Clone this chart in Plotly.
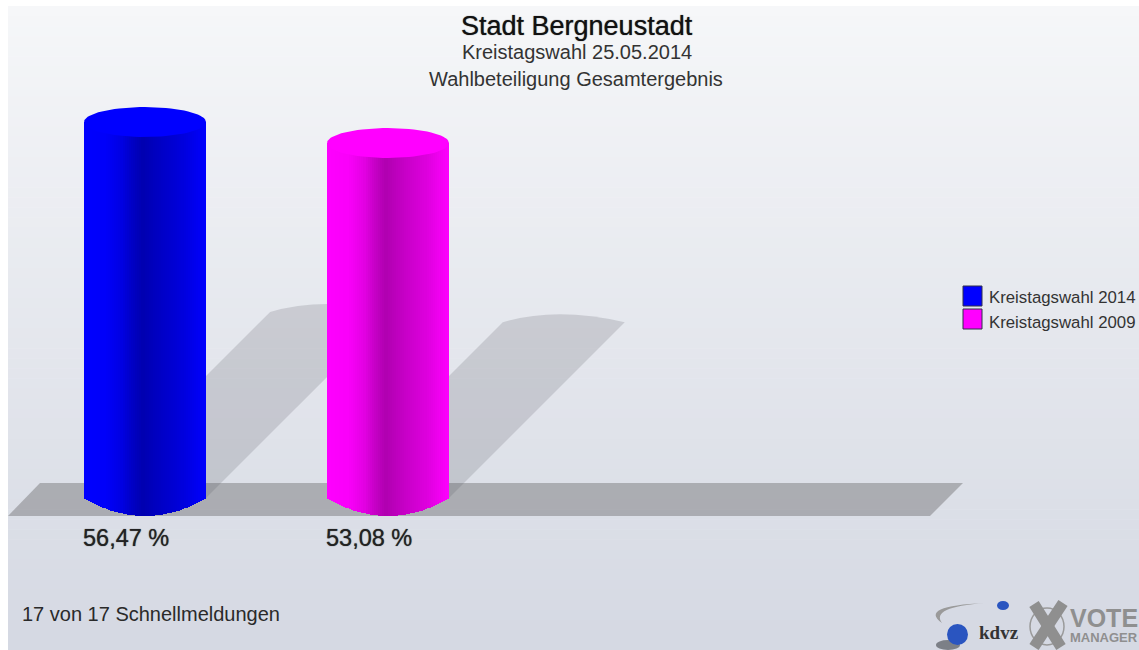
import math
import plotly.graph_objects as go

# ---- data ----
categories = ["Kreistagswahl 2014", "Kreistagswahl 2009"]
values = [56.47, 53.08]
value_labels = ["56,47 %", "53,08 %"]
colors_rgb = [(0, 0, 255), (255, 0, 255)]
colors_hex = ["#0000ff", "#ff00ff"]
title_lines = ["Stadt Bergneustadt", "Kreistagswahl 25.05.2014", "Wahlbeteiligung Gesamtergebnis"]
footer = "17 von 17 Schnellmeldungen"

# ---- layout constants (pixels of the 1139x650 page) ----
W, H = 1139, 650
FONT = "Liberation Sans"
X_UNIT = 243.0          # px between the two columns
X0_PX = 145.0           # px of first column centre
Y_UNIT = 6.195          # px per percentage point
Y_REF_PX = 122.0        # px of first column's top
BASE_PX = 498.0
COL_W = 122.0 / X_UNIT
CAP_RY = 15.0 / Y_UNIT
BOTTOM_DEPTH = 18.0 / Y_UNIT
N = 60

def vy(px):
    return values[0] + (Y_REF_PX - px) / Y_UNIT

def vx(px):
    return (px - X0_PX) / X_UNIT

BASE = vy(BASE_PX)
STOPS = [(0.0, 1.0), (0.18, 0.98), (0.30, 0.90), (0.38, 0.79), (0.48, 0.69), (0.60, 0.76), (0.80, 0.86), (1.0, 1.0)]

def shade(t):
    for (a, fa), (b, fb) in zip(STOPS, STOPS[1:]):
        if t <= b:
            return fa + (fb - fa) * (t - a) / (b - a)
    return 1.0

fig = go.Figure()

# columns built from narrow bars so that they carry the cylinder shading
for i, (cat, v, rgb) in enumerate(zip(categories, values, colors_rgb)):
    xs, bases, heights, cols = [], [], [], []
    for k in range(N):
        t = (k + 0.5) / N
        u = 2 * t - 1
        b = BASE - BOTTOM_DEPTH * (1 - u * u)
        f = shade(t)
        xs.append(i - COL_W / 2 + COL_W * t)
        bases.append(b)
        heights.append(v - b)
        cols.append("rgb(%d,%d,%d)" % tuple(int(c * f) for c in rgb))
    fig.add_trace(go.Bar(x=xs, y=heights, base=bases, width=COL_W / N * 1.12,
                         marker=dict(color=cols, line=dict(width=0)),
                         showlegend=False, hoverinfo="skip"))

# column caps
for i, (v, hexc) in enumerate(zip(values, colors_hex)):
    cx, cy = [], []
    for k in range(73):
        a = 2 * math.pi * k / 72
        cx.append(i + COL_W / 2 * math.cos(a))
        cy.append(v + CAP_RY * math.sin(a))
    fig.add_trace(go.Scatter(x=cx, y=cy, mode="lines", fill="toself", fillcolor=hexc,
                             line=dict(width=0, color=hexc), showlegend=False, hoverinfo="skip"))

# legend entries (keys are drawn as shapes below, the library's key is too small)
for cat in categories:
    fig.add_trace(go.Scatter(x=[None], y=[None], mode="markers", name=cat,
                             marker=dict(symbol="square", size=10, color="rgba(0,0,0,0)")))

shapes = []
# page background: white margin and vertical gradient panel
BANDS = 64
for k in range(BANDS):
    t = k / (BANDS - 1)
    r = int(246 + (213 - 246) * t)
    g = int(247 + (217 - 247) * t)
    b = int(249 + (227 - 249) * t)
    y0 = 6 + (H - 6) * k / BANDS
    y1 = 6 + (H - 6) * (k + 1) / BANDS + 0.5
    shapes.append(dict(type="rect", xref="paper", yref="paper", layer="below",
                       x0=8 / W, x1=1, y0=max(0, 1 - y1 / H), y1=1 - y0 / H,
                       fillcolor="rgb(%d,%d,%d)" % (r, g, b), line=dict(width=0)))

# floor
fl = [(8, 516), (40, 483), (963, 483), (930, 516)]
path = "M " + " L ".join("%f,%f" % (vx(a), vy(c)) for a, c in fl) + " Z"
shapes.append(dict(type="path", path=path, xref="x", yref="y", layer="below",
                   fillcolor="rgba(110,110,112,0.45)", line=dict(width=0)))

# column shadows, slanting to the right
SH = 0.495
for i, v in enumerate(values):
    hpx = (v - BASE) * Y_UNIT * SH
    ytop = BASE + (v - BASE) * SH
    dx = hpx / X_UNIT
    xl, xr = i - COL_W / 2, i + COL_W / 2
    path = "M %f,%f L %f,%f Q %f,%f %f,%f L %f,%f Z" % (
        xl, BASE, xl + dx, ytop, i + dx - 0.03, ytop + 16 / Y_UNIT, xr + dx, ytop, xr, BASE)
    shapes.append(dict(type="path", path=path, xref="x", yref="y", layer="below",
                       fillcolor="rgba(90,92,100,0.20)", line=dict(width=0)))

def px_x(x):
    return x / W

def px_y(y):
    return 1 - y / H

# legend keys
for (y0, y1), hexc in zip([(286, 306), (309, 329)], colors_hex):
    shapes.append(dict(type="rect", xref="paper", yref="paper", x0=px_x(963), x1=px_x(982),
                       y0=px_y(y1), y1=px_y(y0), fillcolor=hexc, line=dict(width=1, color="#30304a")))

# logo marks
shapes += [
    dict(type="path", xref="paper", yref="paper", layer="above",
         path="M %f,%f Q %f,%f %f,%f Q %f,%f %f,%f Z" % (
             px_x(942), px_y(623), px_x(918), px_y(606), px_x(985), px_y(603),
             px_x(930), px_y(607), px_x(942), px_y(623)),
         fillcolor="#9a9a9a", line=dict(width=0)),
    dict(type="circle", xref="paper", yref="paper", x0=px_x(936), x1=px_x(960), y0=px_y(650), y1=px_y(640),
         fillcolor="#555a60", line=dict(width=0), opacity=0.7),
    dict(type="circle", xref="paper", yref="paper", x0=px_x(947), x1=px_x(968), y0=px_y(645), y1=px_y(624),
         fillcolor="#2a55c0", line=dict(width=0)),
    dict(type="circle", xref="paper", yref="paper", x0=px_x(997), x1=px_x(1009), y0=px_y(610), y1=px_y(601),
         fillcolor="#2a55c0", line=dict(width=0)),
    dict(type="circle", xref="paper", yref="paper", x0=px_x(1030), x1=px_x(1064), y0=px_y(645), y1=px_y(608),
         fillcolor="rgba(0,0,0,0)", line=dict(width=1.5, color="#9a9a9a")),
    dict(type="line", xref="paper", yref="paper", x0=px_x(1034), x1=px_x(1061), y0=px_y(604), y1=px_y(647),
         line=dict(width=11, color="#8f8f8f")),
    dict(type="line", xref="paper", yref="paper", x0=px_x(1063), x1=px_x(1034), y0=px_y(603), y1=px_y(647),
         line=dict(width=11, color="#8f8f8f")),
]

HALO = "0 0 1px rgba(30,30,30,0.8)"

def text(x, y, s, size, color="#1c1c1c", anchor="center", bold=False, family=FONT, shadow=None):
    font = dict(family=family, size=size, color=color)
    if shadow:
        font["shadow"] = shadow
    return dict(xref="paper", yref="paper", x=px_x(x), y=px_y(y), text=("<b>%s</b>" % s) if bold else s,
                showarrow=False, xanchor=anchor, yanchor="middle", font=font)

annotations = [
    text(577, 26, title_lines[0], 27, "#111111", shadow=HALO),
    text(577, 52, title_lines[1], 20, "#333333"),
    text(576, 79, title_lines[2], 20, "#333333"),
    text(20, 614, footer, 20, "#2a2a2a", "left"),
    text(999, 632, "kdvz", 19, "#333333", "center", True, "Liberation Serif"),
    text(1104, 618, "VOTE", 25, "#8f8f8f", "center", True),
    text(1104, 637, "MANAGER", 13, "#8f8f8f", "center", True),
]
for i, lab in enumerate(value_labels):
    annotations.append(dict(xref="x", yref="paper", x=i - COL_W / 2 - 3 / X_UNIT, y=px_y(538), text=lab,
                            showarrow=False, xanchor="left", yanchor="middle",
                            font=dict(family=FONT, size=23.5, color="#222222", shadow=HALO)))

fig.update_layout(
    width=W, height=H, autosize=False,
    margin=dict(l=0, r=0, t=0, b=0, autoexpand=False),
    paper_bgcolor="#ffffff", plot_bgcolor="rgba(0,0,0,0)",
    barmode="overlay", bargap=0,
    xaxis=dict(range=[vx(0), vx(W)], visible=False, fixedrange=True),
    yaxis=dict(range=[vy(H), vy(0)], visible=False, fixedrange=True),
    showlegend=True,
    legend=dict(x=949 / W, y=px_y(279), xanchor="left", yanchor="top", bgcolor="rgba(0,0,0,0)",
                itemsizing="trace", itemwidth=30, tracegroupgap=0,
                font=dict(family=FONT, size=16.8, color="#333333")),
    shapes=shapes, annotations=annotations,
    hovermode=False,
)
fig.write_html("out.html", config=dict(displayModeBar=False),
               post_script="document.body.style.margin='0';document.body.style.overflow='hidden';")
